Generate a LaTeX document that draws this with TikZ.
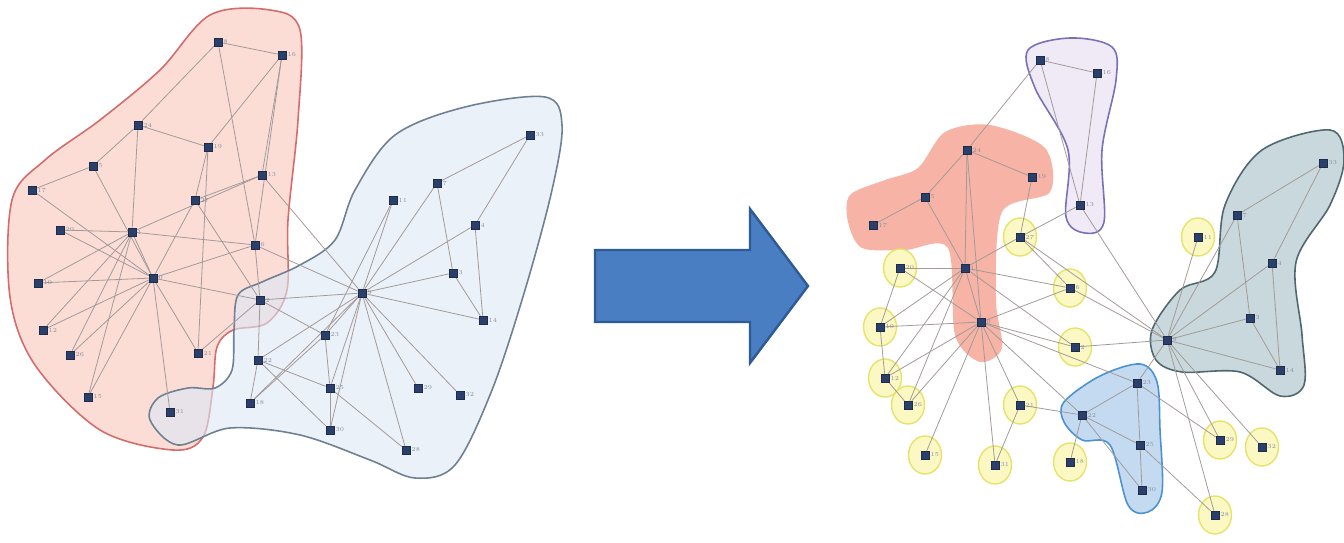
\documentclass[tikz,border=0pt]{standalone}
\usetikzlibrary{shapes.geometric}
\definecolor{vtxblue}{HTML}{2B3F6B}
\definecolor{lblgray}{HTML}{8A8F9A}
\definecolor{edgegray}{HTML}{A39A98}
\definecolor{redshade}{HTML}{FBDDD6}
\definecolor{redline}{HTML}{D56B6B}
\definecolor{blueshade}{HTML}{DCE7F4}
\definecolor{blueline}{HTML}{6F8093}
\definecolor{salmon}{HTML}{F4A696}
\definecolor{lilac}{HTML}{EFEAF6}
\definecolor{lilacline}{HTML}{7A70B8}
\definecolor{slate}{HTML}{C8D8DC}
\definecolor{slateline}{HTML}{506770}
\definecolor{skyshade}{HTML}{C4DAF0}
\definecolor{skyline}{HTML}{4A92D3}
\definecolor{halofill}{HTML}{FBF8C4}
\definecolor{haloline}{HTML}{E6E36A}
\definecolor{arrowblue}{HTML}{4A7EC2}
\definecolor{arrowline}{HTML}{2F5B94}
\pgfdeclarelayer{hull}
\pgfdeclarelayer{back}
\pgfsetlayers{hull,back,main}
\tikzset{
  vtx/.style={rectangle, fill=vtxblue, draw=vtxblue!70!black, minimum size=4.5pt,
    inner sep=0pt, label={[lbl]right:#1}},
  lbl/.style={font=\fontsize{3.5}{4}\selectfont, text=lblgray, inner sep=0.6pt},
  edge/.style={draw=edgegray, line width=0.45pt},
  halo/.style={ellipse, draw=haloline, fill=halofill, line width=0.8pt,
    minimum width=0.66cm, minimum height=0.76cm, inner sep=0pt},
}
\begin{document}
\begin{tikzpicture}[x=0.02cm, y=-0.02cm]
  \useasboundingbox (0,0) rectangle (1344,543);

  % left graph
  \foreach \n/\px/\py/\t in {a1/218/42/8, a2/282/55/16, a3/138/125/24, a4/208/147/19,
      a5/93/166/5, a6/262/175/13, a7/32/190/17, a8/195/200/27, a9/60/230/20,
      a10/132/232/1, a11/255/245/6, a12/153/278/0, a13/38/283/10, a14/43/330/12,
      a15/70/355/26, a16/198/353/21, a17/88/397/15, a18/170/412/31, a19/260/300/2}
    \node[vtx=\t] (\n) at (\px,\py) {};
  \foreach \n/\px/\py/\t in {b1/530/135/33, b2/437/183/7, b3/393/200/11, b4/475/225/4,
      b5/453/273/3, b6/362/293/9, b7/483/320/14, b8/325/335/23, b9/258/360/22,
      b10/330/388/25, b11/418/388/29, b12/460/395/32, b13/250/403/18, b14/330/430/30,
      b15/406/450/28}
    \node[vtx=\t] (\n) at (\px,\py) {};

  \begin{pgfonlayer}{hull}
    \filldraw[fill=redshade, draw=redline, line width=0.9pt]
      plot[smooth cycle, tension=0.55] coordinates {(12,200) (45,160) (100,120)
      (160,70) (210,15) (270,10) (300,30) (298,120) (288,220) (287,290) (267,323)
      (233,330) (217,347) (213,387) (203,437) (173,450) (100,430) (35,365) (10,297)};
    \filldraw[fill=blueshade, fill opacity=0.6, draw=blueline, line width=0.9pt]
      plot[smooth cycle, tension=0.55] coordinates {(150,420) (158,398) (188,388)
      (215,388) (232,370) (234,330) (238,295) (262,282) (300,265) (335,240) (355,190)
      (395,135) (465,107) (545,97) (562,125) (552,190) (525,290) (492,390) (455,465)
      (415,478) (370,460) (300,435) (230,428) (178,445)};
  \end{pgfonlayer}

  \begin{pgfonlayer}{back}
    \foreach \a/\b in {a1/a2, a1/a3, a1/a11, a2/a4, a2/a6, a3/a4, a3/a5, a3/a10,
        a4/a8, a4/a16, a5/a7, a5/a12, a6/a8, a6/a10, a7/a12, a8/a12, a9/a10, a9/a12,
        a10/a11, a10/a12, a11/a12, a11/a19, a12/a13, a12/a14, a12/a15, a12/a16,
        a12/a17, a12/a18, a12/a19, a10/a14, a10/a15, a10/a17, a13/a10, a6/b6,
        a11/b6, a16/a19, a8/a19, a2/a11,
        b1/b2, b1/b4, b2/b5, b2/b6, b4/b6, b4/b7, b5/b7, b5/b6, b6/b7, b3/b8, b3/b6,
        b6/b8, b6/b9, b6/b10, b6/b11, b6/b12, b6/b13, b6/b14, b6/b15, b8/b10,
        b10/b14, b8/b13, b9/b10, b9/b13, b10/b15, a19/b6, a19/b9, a19/b8, b9/b14}
      \draw[edge] (\a) -- (\b);
  \end{pgfonlayer}

  % arrow
  \filldraw[fill=arrowblue, draw=arrowline, line width=1.4pt, line join=miter]
    (595,250) -- (750,250) -- (750,209) -- (808,286) -- (750,363) -- (750,322)
    -- (595,322) -- cycle;

  % right graph
  \foreach \n/\px/\py/\t in {r1/967/150/24, r2/1032/177/19, r3/925/197/5, r4/873/225/17,
      r5/965/268/1, r6/981/322/0, p1/1040/60/8, p2/1097/73/16, p3/1080/205/13}
    \node[vtx=\t] (\n) at (\px,\py) {};
  \foreach \n/\px/\py/\t in {h1/900/268/20, h2/1020/237/27, h3/880/327/10,
      h4/1070/288/6, h5/1075/347/2, h6/885/378/12, h7/908/405/26, h8/1020/405/21,
      h9/925/455/15, h10/995/465/31, h11/1070/462/18, h12/1198/237/11,
      h13/1220/440/29, h14/1262/447/32, h15/1215/515/28}
    \node[vtx=\t] (\n) at (\px,\py) {};
  \foreach \n/\px/\py/\t in {g1/1323/163/33, g2/1237/215/7, g3/1272/263/4,
      g4/1250/318/3, g5/1167/340/9, g6/1280/370/14, c1/1137/383/23, c2/1082/415/22,
      c3/1140/445/25, c4/1142/490/30}
    \node[vtx=\t] (\n) at (\px,\py) {};

  \begin{pgfonlayer}{hull}
    \fill[salmon, opacity=0.85]
      plot[smooth cycle, tension=0.5] coordinates {(850,195) (885,180) (918,168)
      (945,132) (990,125) (1045,148) (1050,192) (1002,212) (996,300) (1002,348)
      (980,362) (955,335) (948,248) (905,250) (862,248) (848,222)};
    \filldraw[fill=lilac, draw=lilacline, line width=0.9pt]
      plot[smooth cycle, tension=0.55] coordinates {(1028,50) (1070,38) (1112,47)
      (1116,80) (1102,150) (1104,222) (1085,233) (1066,217) (1068,150) (1035,88)};
    \filldraw[fill=slate, draw=slateline, line width=0.9pt]
      plot[smooth cycle, tension=0.55] coordinates {(1152,330) (1180,290) (1215,272)
      (1225,205) (1262,150) (1330,130) (1344,160) (1330,205) (1296,262) (1302,335)
      (1304,385) (1280,396) (1240,372) (1182,372) (1156,360)};
    \filldraw[fill=skyshade, draw=skyline, line width=0.9pt]
      plot[smooth cycle, tension=0.55] coordinates {(1064,402) (1100,376) (1140,364)
      (1157,382) (1160,430) (1162,492) (1148,512) (1128,505) (1110,445) (1082,440)
      (1064,422)};
  \end{pgfonlayer}

  \begin{pgfonlayer}{back}
    \foreach \h in {h1,h2,h3,h4,h5,h6,h7,h8,h9,h10,h11,h12,h13,h14,h15}
      \node[halo] at (\h) {};
    \foreach \a/\b in {r1/r2, r1/r3, r3/r4, r1/r5, r1/r6, r3/r5, r2/h2, r5/r6, r5/h1,
        r6/h1, r6/h3, r6/h6, r6/h7, r6/h9, r6/h10, r6/h8, r6/h5, r6/h4, r5/h3, r5/h6,
        r5/h7, r5/h4, r1/p1, p1/p2, p1/p3, p2/p3, p3/h2, p3/g5, h4/g5, h5/g5, h8/c2,
        g1/g2, g1/g3, g2/g4, g3/g6, g4/g6, g5/g2, g5/g3, g5/g4, g5/g6, g5/c1, c1/c2,
        c1/c3, c3/c4, c2/c3, c2/c4, c1/h13, g5/h13, g5/h14, g5/h15, c3/h15, h12/g5,
        h11/c2, r6/c2, h2/h4, h1/h3, h3/h6, h6/h7, r5/h2, h2/g5, h8/h10, r6/c1, r5/h5}
      \draw[edge] (\a) -- (\b);
  \end{pgfonlayer}
\end{tikzpicture}
\end{document}
